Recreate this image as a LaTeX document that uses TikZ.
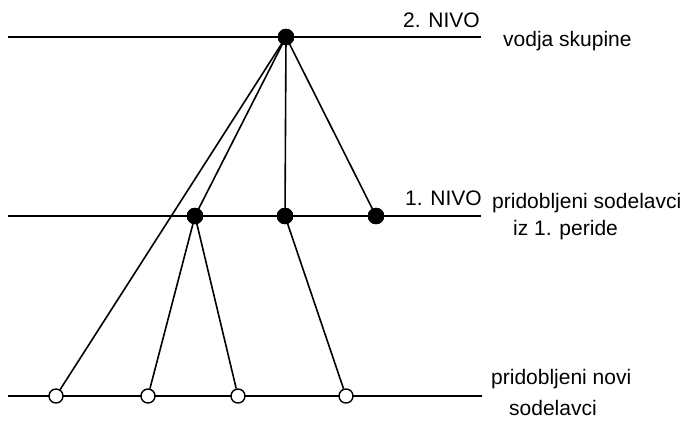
\documentclass[tikz,border=0pt]{standalone}
\usepackage{fontspec}
\setmainfont{Liberation Sans}
\begin{document}
\begin{tikzpicture}[x=1pt,y=-1pt,
  lvl/.style={line width=1.6pt},
  conn/.style={line width=1.6pt},
  full/.style={circle,fill=black,draw=black,inner sep=0pt,minimum size=16pt},
  open/.style={circle,fill=white,draw=black,line width=1.4pt,inner sep=0pt,minimum size=14pt},
  lbl/.style={anchor=base west,inner sep=0pt,font=\fontsize{21}{24}\selectfont}]
\useasboundingbox (0,0) rectangle (684,421);
% level lines
\coordinate (t1) at (8,37);  \coordinate (t2) at (481,37);
\coordinate (m1) at (8,216); \coordinate (m2) at (481,216);
\coordinate (b1) at (8,396); \coordinate (b2) at (482,396);
\draw[lvl] (t1) -- (t2);
\draw[lvl] (m1) -- (m2);
\draw[lvl] (b1) -- (b2);
% nodes
\node[full] (T) at (286,37) {};
\node[full] (M1) at (195,216) {};
\node[full] (M2) at (285,216) {};
\node[full] (M3) at (376,216) {};
\node[open] (B1) at (56,396) {};
\node[open] (B2) at (148,396) {};
\node[open] (B3) at (238,396) {};
\node[open] (B4) at (346,396) {};
% connectors
\draw[conn] (T.center) -- (B1);
\draw[conn] (T.center) -- (M1.center);
\draw[conn] (T.center) -- (M2.center);
\draw[conn] (T.center) -- (M3.center);
\draw[conn] (M1.center) -- (B2);
\draw[conn] (M1.center) -- (B3);
\draw[conn] (M2.center) -- (B4);
\node[full] at (T) {};
\node[full] at (M1) {};
\node[full] at (M2) {};
\node[full] at (M3) {};
% labels
\node[lbl] (n2) at (403,27) {2. NIVO};
\node[lbl] (vs) at (503,46) {vodja skupine};
\node[lbl] (n1) at (405,205) {1. NIVO};
\node[lbl] (ps) at (492,208) {pridobljeni sodelavci};
\node[lbl] (iz) at (513,235) {iz 1. peride};
\node[lbl] (pn) at (491,384) {pridobljeni novi};
\node[lbl] (so) at (509,415) {sodelavci};
\end{tikzpicture}
\end{document}
